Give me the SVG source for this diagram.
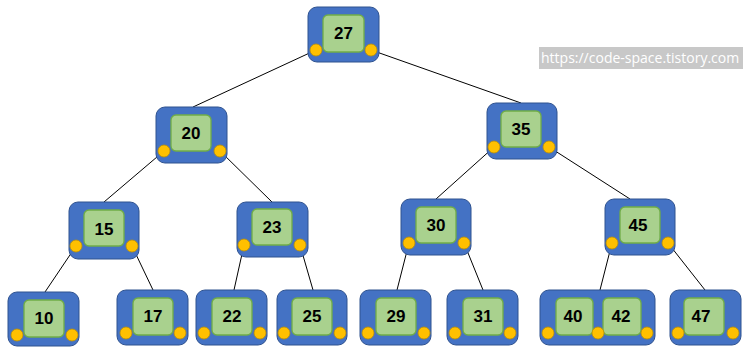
<svg xmlns="http://www.w3.org/2000/svg" width="743" height="352" viewBox="0 0 743 352">
<style>
.b{fill:#4472C4;stroke:#2F528F;stroke-width:1}
.g{fill:#A9D18E;stroke:#70AD47;stroke-width:1.3}
.o{fill:#FFC000;stroke:#BF9000;stroke-width:0.8}
.t{font-family:"Liberation Sans",Arial,sans-serif;font-weight:bold;font-size:17px;fill:#000;text-anchor:middle}
.e{stroke:#000;stroke-width:1;fill:none}
.w{font-family:"Open Sans","Liberation Sans",sans-serif;font-size:14px;fill:#fff}
</style>
<rect width="743" height="352" fill="#fff"/>
<g id="connectors">
<line class="e" x1="316" y1="50" x2="193" y2="107"/>
<line class="e" x1="371" y1="50" x2="521" y2="103"/>
<line class="e" x1="164" y1="151" x2="104" y2="202"/>
<line class="e" x1="220" y1="151" x2="272" y2="202"/>
<line class="e" x1="494" y1="147" x2="436" y2="199"/>
<line class="e" x1="549" y1="147" x2="630" y2="199"/>
<line class="e" x1="76" y1="246" x2="45" y2="292"/>
<line class="e" x1="132" y1="246" x2="153" y2="290"/>
<line class="e" x1="244" y1="245" x2="234" y2="290"/>
<line class="e" x1="300" y1="245" x2="313" y2="290"/>
<line class="e" x1="409" y1="243" x2="397" y2="290"/>
<line class="e" x1="464" y1="243" x2="483" y2="290"/>
<line class="e" x1="612" y1="243" x2="600" y2="290"/>
<line class="e" x1="668" y1="243" x2="705" y2="290"/>
</g>
<g id="n27"><rect class="b" x="308" y="7" width="71" height="55" rx="9"/><rect class="g" x="323" y="15" width="41" height="37" rx="5"/><text class="t" x="343.5" y="39">27</text><circle class="o" cx="316" cy="50" r="6"/><circle class="o" cx="371" cy="50" r="6"/></g>
<g id="n20"><rect class="b" x="156" y="107" width="71" height="56" rx="9"/><rect class="g" x="171" y="115" width="40" height="36" rx="5"/><text class="t" x="191" y="139">20</text><circle class="o" cx="164" cy="151" r="6"/><circle class="o" cx="220" cy="151" r="6"/></g>
<g id="n35"><rect class="b" x="487" y="103" width="70" height="56" rx="9"/><rect class="g" x="501" y="111" width="40" height="36" rx="5"/><text class="t" x="521" y="135">35</text><circle class="o" cx="494" cy="147" r="6"/><circle class="o" cx="549" cy="147" r="6"/></g>
<g id="n15"><rect class="b" x="69" y="202" width="70" height="57" rx="9"/><rect class="g" x="84" y="210" width="40" height="36" rx="5"/><text class="t" x="104" y="235">15</text><circle class="o" cx="76" cy="246" r="6"/><circle class="o" cx="132" cy="246" r="6"/></g>
<g id="n23"><rect class="b" x="237" y="202" width="71" height="55" rx="9"/><rect class="g" x="252" y="209" width="40" height="36" rx="5"/><text class="t" x="272" y="233">23</text><circle class="o" cx="244" cy="245" r="6"/><circle class="o" cx="300" cy="245" r="6"/></g>
<g id="n30"><rect class="b" x="401" y="199" width="70" height="56" rx="9"/><rect class="g" x="416" y="207" width="40" height="36" rx="5"/><text class="t" x="436" y="231">30</text><circle class="o" cx="409" cy="243" r="6"/><circle class="o" cx="464" cy="243" r="6"/></g>
<g id="n45"><rect class="b" x="605" y="199" width="70" height="56" rx="9"/><rect class="g" x="620" y="207" width="40" height="36" rx="5"/><text class="t" x="638" y="231">45</text><circle class="o" cx="612" cy="243" r="6"/><circle class="o" cx="668" cy="243" r="6"/></g>
<g id="n10"><rect class="b" x="8" y="292" width="71" height="54" rx="9"/><rect class="g" x="24" y="300" width="40" height="37" rx="5"/><text class="t" x="44" y="324">10</text><circle class="o" cx="17" cy="335" r="6"/><circle class="o" cx="72" cy="335" r="6"/></g>
<g id="n17"><rect class="b" x="117" y="290" width="71" height="55" rx="9"/><rect class="g" x="133" y="298" width="40" height="37" rx="5"/><text class="t" x="153" y="322">17</text><circle class="o" cx="126" cy="333" r="6"/><circle class="o" cx="180" cy="333" r="6"/></g>
<g id="n22"><rect class="b" x="196" y="290" width="71" height="55" rx="9"/><rect class="g" x="212" y="298" width="40" height="37" rx="5"/><text class="t" x="232" y="322">22</text><circle class="o" cx="204" cy="333" r="6"/><circle class="o" cx="260" cy="333" r="6"/></g>
<g id="n25"><rect class="b" x="277" y="290" width="70" height="55" rx="9"/><rect class="g" x="292" y="298" width="40" height="37" rx="5"/><text class="t" x="312" y="322">25</text><circle class="o" cx="284" cy="333" r="6"/><circle class="o" cx="340" cy="333" r="6"/></g>
<g id="n29"><rect class="b" x="360" y="290" width="71" height="55" rx="9"/><rect class="g" x="376" y="298" width="40" height="37" rx="5"/><text class="t" x="396" y="322">29</text><circle class="o" cx="368" cy="333" r="6"/><circle class="o" cx="424" cy="333" r="6"/></g>
<g id="n31"><rect class="b" x="447" y="290" width="71" height="55" rx="9"/><rect class="g" x="463" y="298" width="40" height="37" rx="5"/><text class="t" x="483" y="322">31</text><circle class="o" cx="455" cy="333" r="6"/><circle class="o" cx="510" cy="333" r="6"/></g>
<g id="n40_42"><rect class="b" x="540" y="290" width="115" height="55" rx="9"/><rect class="g" x="556" y="298" width="37" height="37" rx="5"/><rect class="g" x="603" y="298" width="38" height="37" rx="5"/><text class="t" x="573" y="322">40</text><text class="t" x="621" y="322">42</text><circle class="o" cx="548" cy="333" r="6"/><circle class="o" cx="598" cy="333" r="6"/><circle class="o" cx="647" cy="333" r="6"/></g>
<g id="n47"><rect class="b" x="670" y="290" width="71" height="55" rx="9"/><rect class="g" x="684" y="298" width="40" height="37" rx="5"/><text class="t" x="701" y="322">47</text><circle class="o" cx="678" cy="333" r="6"/><circle class="o" cx="733" cy="333" r="6"/></g>
<g id="watermark"><rect x="539" y="47" width="204" height="22" fill="#c8c8c8"/><text class="w" x="541" y="63">https://code-space.tistory.com</text></g>
</svg>
